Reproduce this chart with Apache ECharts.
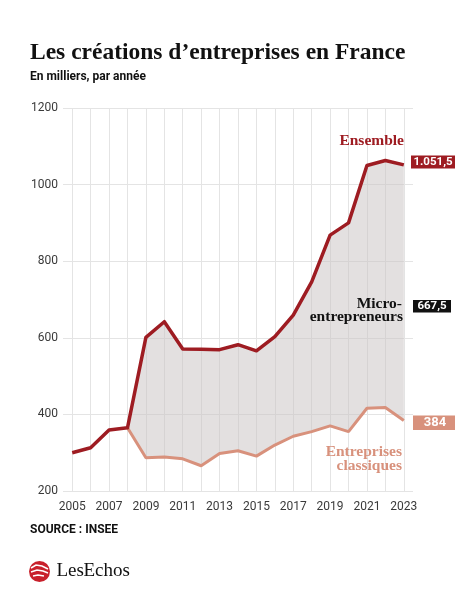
<!DOCTYPE html>
<html><head><meta charset="utf-8">
<script src="https://cdn.jsdelivr.net/npm/echarts@6/dist/echarts.min.js"></script>
<style>html,body{margin:0;padding:0;background:#fff}#c{width:474px;height:592px}</style>
</head><body><div id="c"></div>
<script>
const years = ['2005','2006','2007','2008','2009','2010','2011','2012','2013','2014','2015','2016','2017','2018','2019','2020','2021','2022','2023'];
const ensemble = [300,313,359,365,601,642,571,570,569,582,566,603,659,746,868,900,1050,1063,1051.5];
const classiques = [null,null,null,365,287,289,284,266,298,305,291,320,343,355,370,355,416,418,384];
const yMin = 200, yMax = 1200, yStep = 200;

const base = ensemble.map((v,i)=> classiques[i]==null ? v : classiques[i]);
const micro = ensemble.map((v,i)=> +(v - base[i]).toFixed(1));
const fmt = v => {
  const s = v.toFixed(v % 1 ? 1 : 0).replace('.', ',');
  const [ip, dp] = s.split(',');
  return ip.replace(/\B(?=(\d{3})+(?!\d))/g, '.') + (dp ? ',' + dp : '');
};
const last = ensemble.length - 1;

const RED = '#9e1c22', SALMON = '#d8917c', SERIF = '"Liberation Serif", serif', SANS = 'Roboto, sans-serif';
const Z = 100;

const chart = echarts.init(document.getElementById('c'), null, {renderer:'canvas'});
chart.setOption({
  animation:false,
  backgroundColor:'#fff',
  grid:{left:63, right:61, top:108, bottom:101, containLabel:false},
  xAxis:{
    type:'category', data:years, boundaryGap:true,
    axisLine:{show:false}, axisTick:{show:false},
    axisLabel:{interval:1, margin:10, color:'#3a3a3a', fontSize:12, fontFamily:SANS},
    splitLine:{show:true, interval:0, alignWithLabel:true, lineStyle:{color:'#e4e4e4', width:1}}
  },
  yAxis:{
    type:'value', min:yMin, max:yMax, interval:yStep,
    axisLine:{show:false}, axisTick:{show:false},
    axisLabel:{margin:5, color:'#3a3a3a', fontSize:12, fontFamily:SANS, formatter: v => String(v)},
    splitLine:{lineStyle:{color:'#e4e4e4', width:1}}
  },
  series:[
    {name:'base', type:'line', stack:'s', data:base, symbol:'none', lineStyle:{opacity:0}, silent:true, z:1},
    {name:'micro', type:'line', stack:'s', data:micro, symbol:'none', lineStyle:{opacity:0},
     areaStyle:{color:'rgba(200,194,194,0.5)', opacity:1}, silent:true, z:1},
    {name:'Entreprises classiques', type:'line', data:classiques, symbol:'none',
     lineStyle:{color:SALMON, width:3}, z:3},
    {name:'Ensemble', type:'line', data:ensemble, symbol:'none',
     lineStyle:{color:RED, width:3.5, join:'round'}, z:4}
  ],
  graphic:[
    {type:'text', z:Z, left:30, top:41, style:{text:"Les créations d\u2019entreprises en France", font:'bold 23.5px '+SERIF, fill:'#111'}},
    {type:'text', z:Z, left:30, top:71, style:{text:'En milliers, par année', font:'bold 12px '+SANS, fill:'#111'}},
    {type:'text', z:Z, left:30, top:524, style:{text:'SOURCE : INSEE', font:'bold 12px '+SANS, fill:'#111'}},

    {type:'text', z:Z, style:{x:404, y:141, text:'Ensemble', font:'bold 15.5px '+SERIF, fill:RED, align:'right', verticalAlign:'middle'}},
    {type:'rect', z:Z, shape:{x:411, y:155.5, width:44, height:13}, style:{fill:RED}},
    {type:'text', z:Z+1, style:{x:433, y:162, text:fmt(ensemble[last]), font:'bold 11.5px '+SANS, fill:'#fff', align:'center', verticalAlign:'middle'}},

    {type:'text', z:Z, style:{x:402, y:303.5, text:'Micro-', font:'bold 15.5px '+SERIF, fill:'#111', align:'right', verticalAlign:'middle'}},
    {type:'text', z:Z, style:{x:403, y:316.5, text:'entrepreneurs', font:'bold 15.5px '+SERIF, fill:'#111', align:'right', verticalAlign:'middle'}},
    {type:'rect', z:Z, shape:{x:413, y:300, width:38, height:12.5}, style:{fill:'#111'}},
    {type:'text', z:Z+1, style:{x:432, y:306.5, text:fmt(micro[last]), font:'bold 11.5px '+SANS, fill:'#fff', align:'center', verticalAlign:'middle'}},

    {type:'rect', z:Z, shape:{x:413, y:415.5, width:42, height:14.5}, style:{fill:SALMON}},
    {type:'text', z:Z+1, style:{x:435, y:423, text:fmt(classiques[last]), font:'bold 13px '+SANS, fill:'#fff', align:'center', verticalAlign:'middle'}},
    {type:'text', z:Z, style:{x:402, y:452, text:'Entreprises', font:'bold 15.5px '+SERIF, fill:SALMON, align:'right', verticalAlign:'middle'}},
    {type:'text', z:Z, style:{x:402, y:465.5, text:'classiques', font:'bold 15.5px '+SERIF, fill:SALMON, align:'right', verticalAlign:'middle'}},

    {type:'circle', z:Z, shape:{cx:39.5, cy:571.5, r:10.5}, style:{fill:'#c8202b'}},
    {type:'polyline', z:Z+1, shape:{points:[[31,568],[36,565],[42,566],[48,569]]}, style:{stroke:'#fff', lineWidth:1.6, fill:null}},
    {type:'polyline', z:Z+1, shape:{points:[[31,572],[37,570],[43,571],[48,573]]}, style:{stroke:'#fff', lineWidth:1.6, fill:null}},
    {type:'polyline', z:Z+1, shape:{points:[[33,576],[38,575],[44,576]]}, style:{stroke:'#fff', lineWidth:1.6, fill:null}},
    {type:'text', z:Z, style:{x:56.5, y:571.5, text:'Les', font:'19px '+SERIF, fill:'#111', verticalAlign:'middle'}},
    {type:'text', z:Z, style:{x:83.5, y:571.5, text:'Echos', font:'19px '+SERIF, fill:'#111', verticalAlign:'middle'}}
  ]
});
</script></body></html>
